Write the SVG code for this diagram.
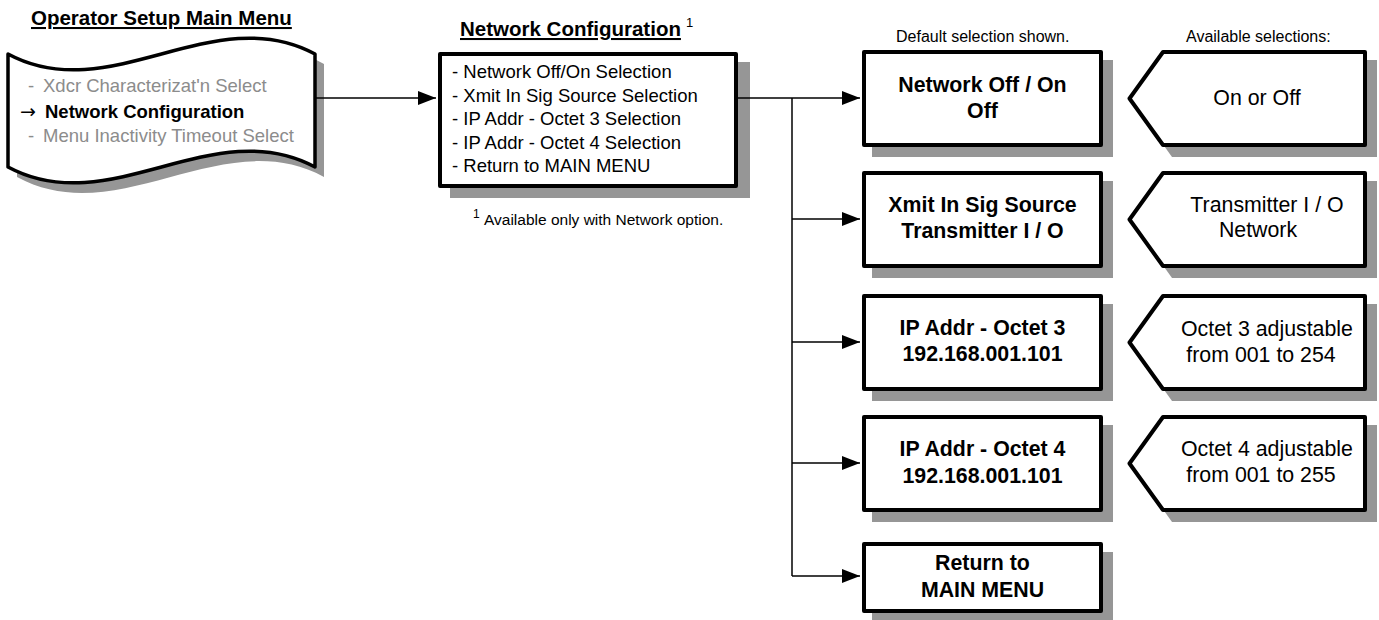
<svg xmlns="http://www.w3.org/2000/svg" width="1379" height="620" viewBox="0 0 1379 620">
<defs>
<style>
.sh{fill:#969696;stroke:none}
.bx{fill:#fff;stroke:#000;stroke-width:4;stroke-linejoin:round}
.t{font-family:"Liberation Sans",Arial,sans-serif;fill:#000}
.b{font-weight:bold;font-size:21.33px;text-anchor:middle}
.r{font-size:21.33px;text-anchor:middle}
.m{font-size:18.5px}
.g{fill:#8c8c8c}
.s{font-size:16px}
.ttl{font-weight:bold;font-size:20.5px;text-decoration:underline}
.c{fill:none;stroke:#000;stroke-width:1.5}
</style>
<marker id="ah" markerUnits="userSpaceOnUse" markerWidth="20" markerHeight="16" refX="18" refY="7" orient="auto">
<path d="M0,0 L18,7 L0,14 Z" fill="#000"/>
</marker>
</defs>

<g id="main-menu">
<text class="t ttl" x="31" y="25">Operator Setup Main Menu</text>
<path class="sh" d="M17,64 C119,119 222,9 324,64 L324,177 C222,122 119,232 17,177 Z"/>
<path d="M8,54 C110,109 213,-1 315,54 L315,167 C213,112 110,222 8,167 Z" fill="#fff" stroke="#000" stroke-width="3.5" stroke-linejoin="round"/>
<text class="t m g" x="28" y="92">-</text>
<text class="t m g" x="43" y="92">Xdcr Characterizat'n Select</text>
<text x="20" y="118" font-family="'DejaVu Sans',sans-serif" font-size="19" fill="#000">→</text>
<text class="t m" x="45" y="118" font-weight="bold">Network Configuration</text>
<text class="t m g" x="28" y="142">-</text>
<text class="t m g" x="43" y="142">Menu Inactivity Timeout Select</text>
</g>

<g id="network-config">
<text class="t ttl" x="460" y="36">Network Configuration</text>
<text class="t" x="686" y="27" font-size="13">1</text>
<rect class="sh" x="450" y="62" width="300" height="136"/>
<rect class="bx" x="440" y="54" width="296" height="132"/>
<text class="t m" x="452" y="78">- Network Off/On Selection</text>
<text class="t m" x="452" y="102">- Xmit In Sig Source Selection</text>
<text class="t m" x="452" y="125">- IP Addr - Octet 3 Selection</text>
<text class="t m" x="452" y="149">- IP Addr - Octet 4 Selection</text>
<text class="t m" x="452" y="172">- Return to MAIN MENU</text>
<text class="t" x="473" y="218" font-size="12">1</text>
<text class="t" x="484" y="225" font-size="15.5">Available only with Network option.</text>
</g>

<g id="labels">
<text class="t s" x="896" y="42">Default selection shown.</text>
<text class="t s" x="1186" y="42">Available selections:</text>
</g>

<g id="row1-box">
<rect class="sh" x="872" y="60" width="241" height="97"/>
<rect class="bx" x="864" y="52" width="237" height="93"/>
<text class="t b" x="982.5" y="92">Network Off / On</text>
<text class="t b" x="982.5" y="118">Off</text>
</g>
<g id="row1-sel">
<polygon class="sh" points="1137,108 1172,60 1377,60 1377,157 1172,157"/>
<polygon class="bx" points="1129.5,98.5 1163,52 1365,52 1365,145 1163,145"/>
<text class="t r" x="1257" y="105">On or Off</text>
</g>

<g id="row2-box">
<rect class="sh" x="872" y="181" width="241" height="97"/>
<rect class="bx" x="864" y="173" width="237" height="93"/>
<text class="t b" x="982.5" y="212">Xmit In Sig Source</text>
<text class="t b" x="982.5" y="238">Transmitter I / O</text>
</g>
<g id="row2-sel">
<polygon class="sh" points="1137,229 1172,181 1377,181 1377,278 1172,278"/>
<polygon class="bx" points="1129.5,219.5 1163,173 1365,173 1365,266 1163,266"/>
<text class="t r" x="1267" y="212">Transmitter I / O</text>
<text class="t r" x="1258" y="237">Network</text>
</g>

<g id="row3-box">
<rect class="sh" x="872" y="304" width="241" height="97"/>
<rect class="bx" x="864" y="296" width="237" height="93"/>
<text class="t b" x="982.5" y="335">IP Addr - Octet 3</text>
<text class="t b" x="982.5" y="361">192.168.001.101</text>
</g>
<g id="row3-sel">
<polygon class="sh" points="1137,352 1172,304 1377,304 1377,401 1172,401"/>
<polygon class="bx" points="1129.5,342.5 1163,296 1365,296 1365,389 1163,389"/>
<text class="t r" x="1267" y="336">Octet 3 adjustable</text>
<text class="t r" x="1261" y="362">from 001 to 254</text>
</g>

<g id="row4-box">
<rect class="sh" x="872" y="425" width="241" height="97"/>
<rect class="bx" x="864" y="417" width="237" height="93"/>
<text class="t b" x="982.5" y="456">IP Addr - Octet 4</text>
<text class="t b" x="982.5" y="483">192.168.001.101</text>
</g>
<g id="row4-sel">
<polygon class="sh" points="1137,473 1172,425 1377,425 1377,522 1172,522"/>
<polygon class="bx" points="1129.5,463.5 1163,417 1365,417 1365,510 1163,510"/>
<text class="t r" x="1267" y="456">Octet 4 adjustable</text>
<text class="t r" x="1261" y="482">from 001 to 255</text>
</g>

<g id="row5-box">
<rect class="sh" x="872" y="552" width="241" height="71"/>
<rect class="bx" x="864" y="544" width="237" height="67"/>
<text class="t b" x="982.5" y="570">Return to</text>
<text class="t b" x="982.5" y="597">MAIN MENU</text>
</g>

<g id="connectors">
<line class="c" x1="315" y1="98" x2="436" y2="98" marker-end="url(#ah)"/>
<line class="c" x1="738" y1="98" x2="860" y2="98" marker-end="url(#ah)"/>
<line class="c" x1="792" y1="98" x2="792" y2="576"/>
<line class="c" x1="792" y1="219" x2="860" y2="219" marker-end="url(#ah)"/>
<line class="c" x1="792" y1="342" x2="860" y2="342" marker-end="url(#ah)"/>
<line class="c" x1="792" y1="463" x2="860" y2="463" marker-end="url(#ah)"/>
<line class="c" x1="792" y1="576" x2="860" y2="576" marker-end="url(#ah)"/>
</g>
</svg>
